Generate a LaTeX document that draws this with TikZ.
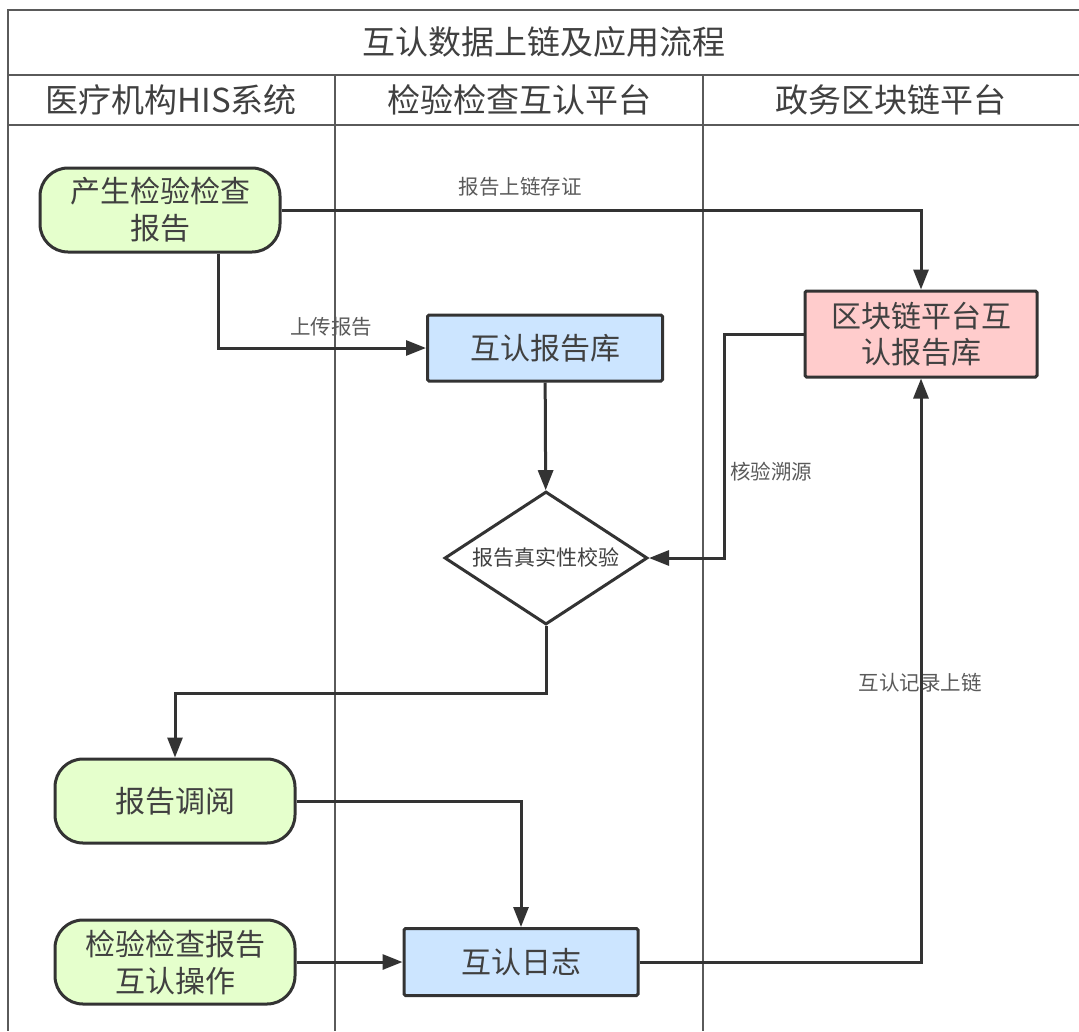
\documentclass[tikz,border=0pt]{standalone}
\usepackage{fontspec}
\setmainfont{Noto Sans CJK SC}
\usepackage{tikz}
\usetikzlibrary{arrows.meta}
\usetikzlibrary{shapes.geometric,
                positioning,
                calc}
\definecolor{linegray}{HTML}{333333}
\definecolor{framegray}{HTML}{5A5A5A}
\definecolor{textgray}{HTML}{404040}
\definecolor{termgreen}{HTML}{E5FFCC}
\definecolor{libblue}{HTML}{CCE5FF}
\definecolor{chainpink}{HTML}{FFCCCC}

\begin{document}
\begin{tikzpicture}[
        x=1pt, y=-1pt,
        every node/.style={text=textgray, align=center},
        term/.style={draw=linegray, line width=3pt, fill=termgreen, rounded corners=28pt, minimum width=240pt, minimum height=84pt, font=\fontsize{30}{37}\selectfont},
        box/.style={draw=linegray, line width=3pt, rounded corners=1.5pt, font=\fontsize{30}{36}\selectfont},
        check/.style={diamond, aspect=1.53, draw=linegray, line width=3pt, fill=white, minimum width=203pt, minimum height=133pt, inner sep=0pt, font=\fontsize{21}{25}\selectfont},
        lbl/.style={font=\fontsize{20.5}{24}\selectfont, text=framegray},
        head/.style={font=\fontsize{33}{38}\selectfont},
        flow/.style={-{Triangle[length=20pt, width=15pt]}, draw=linegray, line width=3pt},
        frame/.style={draw=framegray, line width=2.2pt}
        ]
        \useasboundingbox (0,0) rectangle (1079,1031);

        % Lanes
        \draw[frame] (1079,10) -- (8,10) -- (8,1031);
        \draw[frame] (8,75) -- (1079,75);
        \draw[frame] (8,125) -- (1079,125);
        \draw[frame] (335,75) -- (335,1031);
        \draw[frame] (703,75) -- (703,1031);
        \node[head] (title) at (544,42) {互认数据上链及应用流程};
        \node[head] (his) at (171,100) {医疗机构HIS系统};
        \node[head] (mrplat) at (519,100) {检验检查互认平台};
        \node[head] (govchain) at (891,100) {政务区块链平台};

        % Labels
        \node[lbl] (lchain) at (520,187) {报告上链存证};
        \node[lbl] (lupload) at (331,327) {上传报告};
        \node[lbl] (ltrace) at (771,472) {核验溯源};
        \node[lbl] (lrecord) at (920,683) {互认记录上链};

        % Nodes
        \node[term] (gen) at (160,210) {产生检验检查\\报告};
        \node[box, fill=libblue, minimum width=235pt, minimum height=66pt] (mrdb) at (545,348) {互认报告库};
        \node[box, fill=chainpink, minimum width=232pt, minimum height=86pt] (chaindb) at (921,334) {区块链平台互\\认报告库};
        \node[check] (verify) at (546,558) {报告真实性校验};
        \node[term] (view) at (175,801) {报告调阅};
        \node[term] (op) at (175,962) {检验检查报告\\互认操作};
        \node[box, fill=libblue, minimum width=234pt, minimum height=67pt] (mrlog) at (521,962) {互认日志};

        % Arrows
        \draw[flow] (gen.east) -| (chaindb.north);
        \draw[flow] ([xshift=58pt]gen.south) |- (mrdb.west);
        \draw[flow] (mrdb) -- (verify);
        \draw[flow] (chaindb.west) -- ++(-79,0) |- (verify.east);
        \draw[flow] (verify.south) -- ++(0,67) -| (view.north);
        \draw[flow] (view.east) -| (mrlog.north);
        \draw[flow] (op) -- (mrlog);
        \draw[flow] (mrlog.east) -| (chaindb.south);

        \end{tikzpicture}
\end{document}
